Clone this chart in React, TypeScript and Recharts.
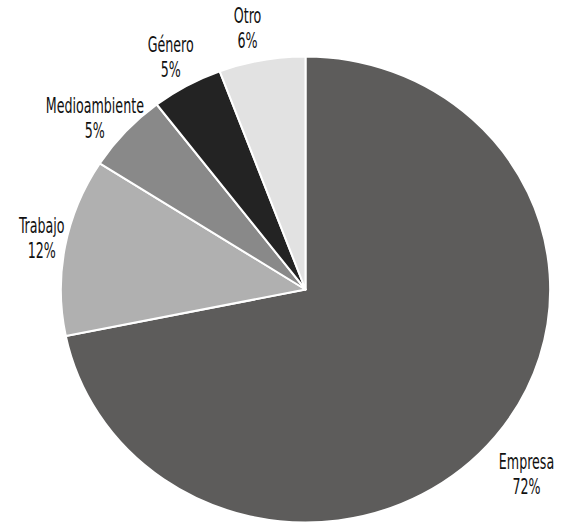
import { PieChart, Pie, Cell } from "recharts";

const categories = ["Empresa", "Trabajo", "Medioambiente", "Género", "Otro"];
const shares = [71.8, 12.3, 5.5, 4.7, 5.7];
const shareLabels = ["72%", "12%", "5%", "5%", "6%"];

const COLORS = ["#5d5c5b", "#b0b0b0", "#898989", "#232323", "#e2e2e2"];
const STRETCH = 1.05; // pie in the reference is a bit wider than tall
const RAD = Math.PI / 180;
const FONT = '"DejaVu Sans Condensed", "Liberation Sans", sans-serif';

const data = categories.map((name, i) => ({
  name,
  value: shares[i],
  pct: shareLabels[i],
}));

// hand placed labels: radius factor and small angle nudge (deg)
const LABEL_POS: Record<string, [number, number]> = {
  Empresa: [1.205, -2.2],
  Trabajo: [1.1, -0.8],
  Medioambiente: [1.13, 2.3],
  Género: [1.137, 0],
  Otro: [1.143, 1.7],
};

function EllipseSector(props: any) {
  const { cx, cy, outerRadius, startAngle, endAngle, fill } = props;
  const rx = outerRadius * STRETCH;
  const ry = outerRadius;
  const pt = (a: number) => [cx + rx * Math.cos(-a * RAD), cy + ry * Math.sin(-a * RAD)];
  const [x1, y1] = pt(startAngle);
  const [x2, y2] = pt(endAngle);
  const large = Math.abs(endAngle - startAngle) > 180 ? 1 : 0;
  const sweep = startAngle > endAngle ? 1 : 0;
  const d = `M${cx},${cy} L${x1},${y1} A${rx},${ry} 0 ${large} ${sweep} ${x2},${y2} Z`;
  return <path d={d} fill={fill} stroke="#ffffff" strokeWidth={2} strokeLinejoin="round" />;
}

function renderLabel(props: any) {
  const { cx, cy, midAngle, outerRadius, name, payload } = props;
  const [f, nudge] = LABEL_POS[name] || [1.135, 0];
  const a = (midAngle + nudge) * RAD;
  const x = cx + outerRadius * STRETCH * f * Math.cos(-a);
  const y = cy + outerRadius * f * Math.sin(-a);
  // condensed look: squeeze the text horizontally around its centre
  return (
    <text
      transform={`translate(${x},${y}) scale(0.67,1)`}
      textAnchor="middle"
      fill="#111111"
      fontFamily={FONT}
      fontSize={21}
    >
      <tspan x={0} y={-6}>{name}</tspan>
      <tspan x={0} y={19}>{payload.pct}</tspan>
    </text>
  );
}

export default function App() {
  return (
    <div style={{ position: "absolute", left: 0, top: 0, width: 567, height: 531, background: "#fff" }}>
      <PieChart width={567} height={531} margin={{ top: 0, right: 0, bottom: 0, left: 0 }}>
        <Pie
          data={data}
          dataKey="value"
          nameKey="name"
          cx={305.5}
          cy={289.5}
          outerRadius={233}
          startAngle={90}
          endAngle={-270}
          stroke="#ffffff"
          strokeWidth={2}
          label={renderLabel}
          labelLine={false}
          shape={EllipseSector}
          activeShape={EllipseSector}
          isAnimationActive={false}
        >
          {data.map((d, i) => (
            <Cell key={d.name} fill={COLORS[i]} />
          ))}
        </Pie>
      </PieChart>
    </div>
  );
}
